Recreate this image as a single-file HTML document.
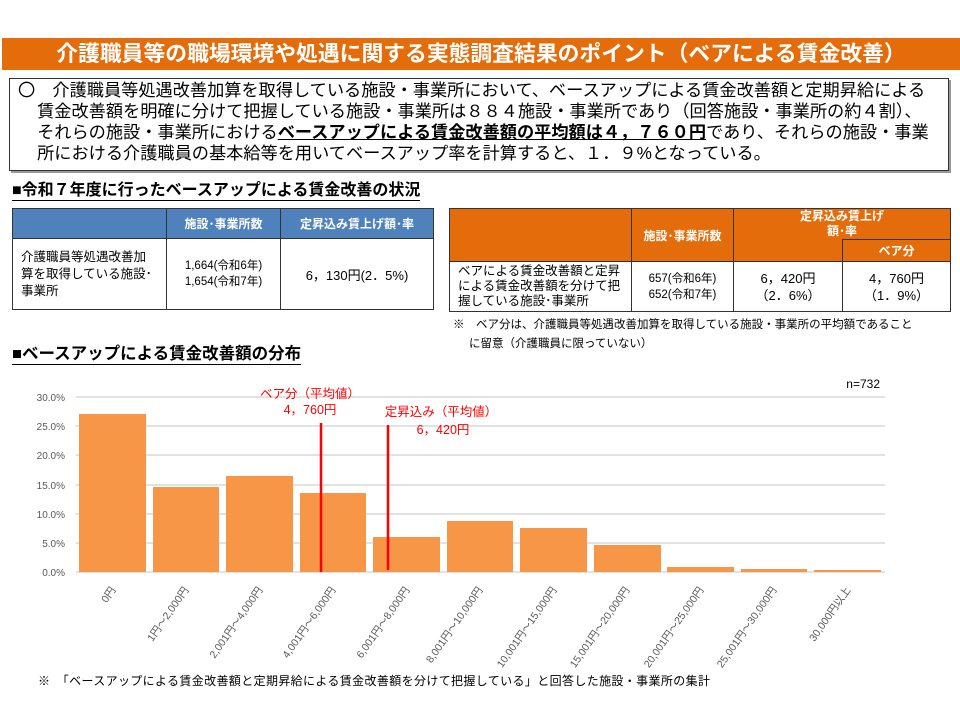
<!DOCTYPE html>
<html><head><meta charset="utf-8"><style>
*{margin:0;padding:0;box-sizing:border-box}
body{width:960px;height:720px;background:#fff;position:relative;overflow:hidden;font-family:"Liberation Sans","Noto Sans CJK JP",sans-serif;color:#000}
.a{position:absolute}
.hdr{left:2px;top:38px;width:958px;height:32px;background:#e46c0a;color:#fff;font-size:21.8px;font-weight:bold;text-align:center;line-height:32px;white-space:nowrap}
.box{left:9px;top:78px;width:940px;height:93px;border:1.5px solid #333;box-shadow:2px 2px 0 #999;font-size:17.2px;line-height:21px;padding:1px 0 0 8px;white-space:nowrap}
.sec{font-size:16px;font-weight:bold;border-bottom:1px solid #000;line-height:19px;white-space:nowrap}
table{position:absolute;border-collapse:collapse;font-size:11px}
td{border:1.5px solid #333;text-align:center;vertical-align:middle}
.bl th{background:#4f81bd;color:#fff;border:1.5px solid #333;font-size:12px}
.or th{background:#e46c0a;color:#fff;border:1.5px solid #333;font-size:12px}
</style></head><body>
<div class="a hdr">介護職員等の職場環境や処遇に関する実態調査結果のポイント（ベアによる賃金改善）</div>
<div class="a box">〇　介護職員等処遇改善加算を取得している施設・事業所において、ベースアップによる賃金改善額と定期昇給による<br>&nbsp;&nbsp;&nbsp;&nbsp;賃金改善額を明確に分けて把握している施設・事業所は８８４施設・事業所であり（回答施設・事業所の約４割）、<br>&nbsp;&nbsp;&nbsp;&nbsp;それらの施設・事業所における<b style="text-decoration:underline">ベースアップによる賃金改善額の平均額は４，７６０円</b>であり、それらの施設・事業<br>&nbsp;&nbsp;&nbsp;&nbsp;所における介護職員の基本給等を用いてベースアップ率を計算すると、１．９%となっている。</div>
<div class="a sec" style="left:12px;top:181px">■令和７年度に行ったベースアップによる賃金改善の状況</div>
<table class="bl" style="left:12px;top:208px;width:422px;height:102px">
<tr style="height:30px"><th style="width:154px"></th><th style="width:114px">施設･事業所数</th><th>定昇込み賃上げ額･率</th></tr>
<tr><td style="text-align:left;padding-left:8px;font-size:12.5px;line-height:17px">介護職員等処遇改善加<br>算を取得している施設･<br>事業所</td><td style="font-size:11.5px;line-height:16px">1,664(令和6年)<br>1,654(令和7年)</td><td style="font-size:13px">6，130円(2．5%)</td></tr>
</table>
<table class="or" style="left:449px;top:208px;width:502px;height:104px">
<tr style="height:24px"><th rowspan="2" style="width:182px"></th><th rowspan="2" style="width:102px">施設･事業所数</th><th colspan="2" style="border-bottom:none;line-height:15px">定昇込み賃上げ<br>額･率</th></tr>
<tr style="height:22px"><th style="border-top:none;border-right:1.5px solid #333;background:#e46c0a"></th><th style="width:108px">ベア分</th></tr>
<tr><td style="text-align:left;padding-left:8px;font-size:12.5px;line-height:15px">ベアによる賃金改善額と定昇<br>による賃金改善額を分けて把<br>握している施設･事業所</td><td style="line-height:16px;font-size:11.5px">657(令和6年)<br>652(令和7年)</td><td style="font-size:13px;line-height:17px">6，420円<br>（2．6%）</td><td style="font-size:13px;line-height:17px">4，760円<br>（1．9%）</td></tr>
</table>
<div class="a" style="left:453px;top:316px;font-size:11.5px;line-height:19px;white-space:nowrap">※　ベア分は、介護職員等処遇改善加算を取得している施設・事業所の平均額であること<br>&nbsp;&nbsp;&nbsp;&nbsp;&nbsp;に留意（介護職員に限っていない）</div>
<div class="a sec" style="left:12px;top:345px;font-size:16.5px">■ベースアップによる賃金改善額の分布</div>
<svg class="a" style="left:0;top:0" width="960" height="720" font-family="Liberation Sans, Noto Sans CJK JP, sans-serif">
<g stroke="#d9d9d9" stroke-width="1.5">
<line x1="76" x2="885" y1="397" y2="397"/><line x1="76" x2="885" y1="426" y2="426"/><line x1="76" x2="885" y1="455" y2="455"/><line x1="76" x2="885" y1="485" y2="485"/><line x1="76" x2="885" y1="514" y2="514"/><line x1="76" x2="885" y1="543" y2="543"/><line x1="76" x2="885" y1="572" y2="572"/></g>
<g font-size="10" fill="#595959" text-anchor="end">
<text x="65" y="401">30.0%</text><text x="65" y="430">25.0%</text><text x="65" y="459">20.0%</text><text x="65" y="489">15.0%</text><text x="65" y="518">10.0%</text><text x="65" y="547">5.0%</text><text x="65" y="576">0.0%</text></g>
<g fill="#f79646">
<rect x="79" y="414" width="67" height="158"/><rect x="153" y="487" width="66" height="85"/><rect x="226" y="476" width="67" height="96"/><rect x="300" y="493" width="66" height="79"/><rect x="373" y="537" width="67" height="35"/><rect x="447" y="521" width="66" height="51"/><rect x="520" y="528" width="67" height="44"/><rect x="594" y="545" width="67" height="27"/><rect x="667" y="567" width="67" height="5"/><rect x="741" y="569" width="66" height="3"/><rect x="814" y="570" width="67" height="2"/></g>
<line x1="321" x2="321" y1="423" y2="572" stroke="#f00" stroke-width="2.5"/>
<line x1="388" x2="388" y1="425" y2="570" stroke="#f00" stroke-width="2.5"/>
<g fill="#f00" font-size="12.5" text-anchor="middle"><text x="310" y="398">ベア分（平均値）</text><text x="310" y="414">4，760円</text><text x="441" y="416">定昇込み（平均値）</text><text x="443" y="434">6，420円</text></g>
<text x="880" y="388" font-size="12" text-anchor="end">n=732</text>
<g font-size="10.5" fill="#595959" text-anchor="end">
<text transform="translate(116,590) rotate(-55)">0円</text>
<text transform="translate(189,590) rotate(-55)">1円～2,000円</text>
<text transform="translate(263,590) rotate(-55)">2,001円～4,000円</text>
<text transform="translate(336,590) rotate(-55)">4,001円～6,000円</text>
<text transform="translate(410,590) rotate(-55)">6,001円～8,000円</text>
<text transform="translate(483,590) rotate(-55)">8,001円～10,000円</text>
<text transform="translate(557,590) rotate(-55)">10,001円～15,000円</text>
<text transform="translate(630,590) rotate(-55)">15,001円～20,000円</text>
<text transform="translate(704,590) rotate(-55)">20,001円～25,000円</text>
<text transform="translate(777,590) rotate(-55)">25,001円～30,000円</text>
<text transform="translate(851,590) rotate(-55)">30,000円以上</text></g>
<text x="38" y="685" font-size="12" textLength="672">※　「ベースアップによる賃金改善額と定期昇給による賃金改善額を分けて把握している」と回答した施設・事業所の集計</text>
</svg>
</body></html>
